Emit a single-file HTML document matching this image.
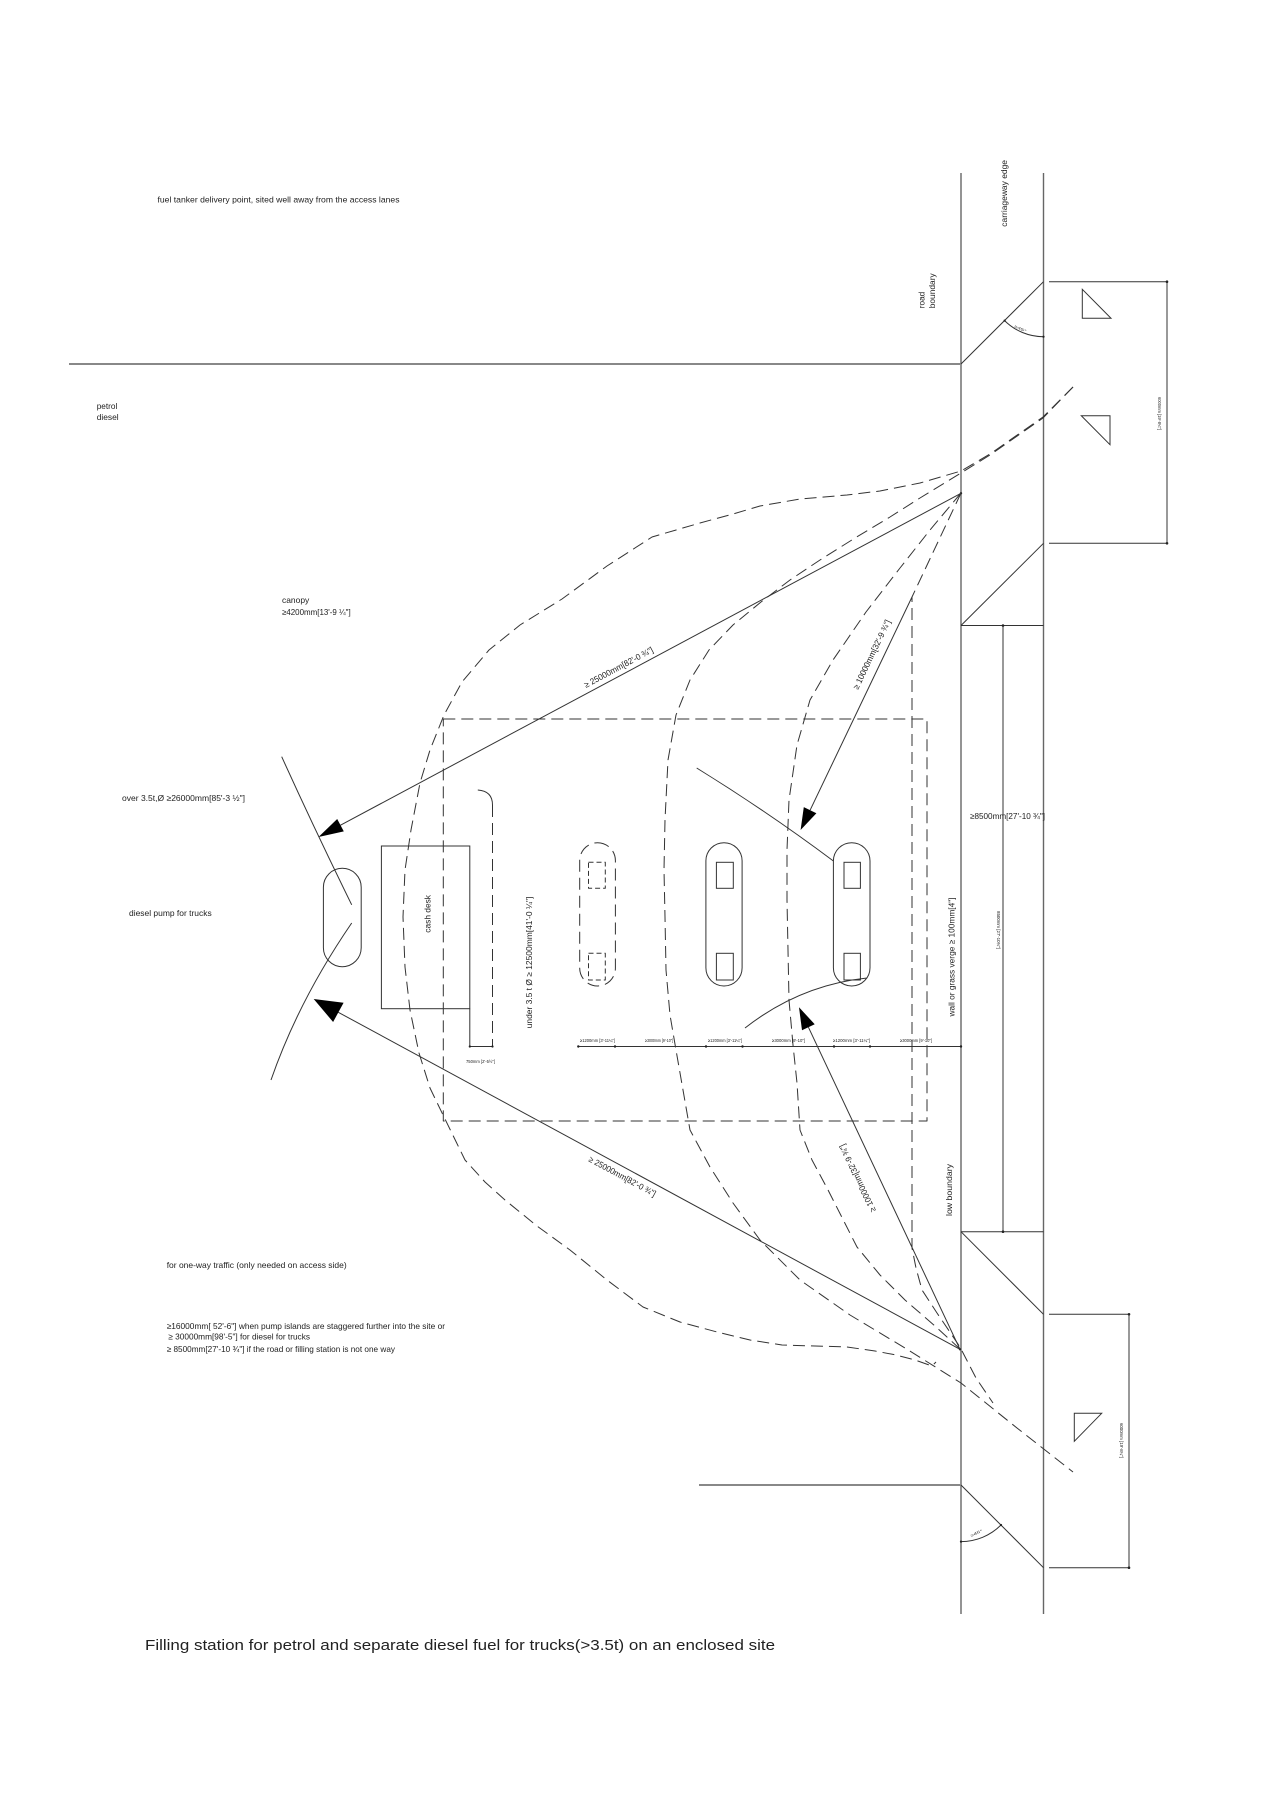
<!DOCTYPE html>
<html>
<head>
<meta charset="utf-8">
<style>
html,body{margin:0;padding:0;background:#fff;}
svg{display:block;}
text{font-family:"Liberation Sans",Arial,sans-serif;fill:#222;}
</style>
</head>
<body>
<svg width="1273" height="1800" viewBox="0 0 1273 1800" xmlns="http://www.w3.org/2000/svg">
<rect x="0" y="0" width="1273" height="1800" fill="#fff"/>

<!-- Road lines -->
<g stroke="#666" stroke-width="1.4" fill="none">
  <line x1="961" y1="173" x2="961" y2="1614"/>
  <line x1="1043.5" y1="173" x2="1043.5" y2="1614"/>
</g>
<g stroke="#888" stroke-width="2" fill="none">
  <line x1="69" y1="364" x2="961" y2="364"/>
  <line x1="699" y1="1485" x2="961" y2="1485"/>
</g>
<g stroke="#333" stroke-width="1" fill="none">
  <line x1="961" y1="364" x2="1043.5" y2="281.7"/>
  <line x1="1043.5" y1="543.3" x2="961" y2="625.5"/>
  <line x1="961" y1="625.5" x2="1043.5" y2="625.5"/>
  <line x1="961" y1="1231.7" x2="1043.5" y2="1231.7"/>
  <line x1="961" y1="1231.7" x2="1043.5" y2="1314.3"/>
  <line x1="961" y1="1485" x2="1043.5" y2="1567.7"/>
  <!-- middle dim -->
  <line x1="1003" y1="625.5" x2="1003" y2="1231.7"/>
  <!-- right top dim -->
  <line x1="1049" y1="281.7" x2="1167" y2="281.7"/>
  <line x1="1049" y1="543.3" x2="1167" y2="543.3"/>
  <line x1="1167" y1="281.7" x2="1167" y2="543.3"/>
  <!-- right bottom dim -->
  <line x1="1049" y1="1314.3" x2="1129" y2="1314.3"/>
  <line x1="1049" y1="1567.7" x2="1129" y2="1567.7"/>
  <line x1="1129" y1="1314.3" x2="1129" y2="1567.7"/>
  <!-- angle arcs -->
  <path d="M1004.6,320.6 A55,55 0 0 0 1043.5,336.7"/>
  <path d="M1001,1525 A56.6,56.6 0 0 1 961,1541.6"/>
  <!-- triangles -->
  <polygon points="1082.3,289.3 1082.3,318.3 1111,318.3"/>
  <polygon points="1081.3,415.7 1110,415.7 1110,444.7"/>
  <polygon points="1074.3,1413.3 1101.7,1413.3 1074.3,1441.3"/>
</g>
<g fill="#222">
  <circle cx="1167" cy="281.7" r="1.3"/><circle cx="1167" cy="543.3" r="1.3"/>
  <circle cx="1129" cy="1314.3" r="1.3"/><circle cx="1129" cy="1567.7" r="1.3"/>
  <circle cx="1003" cy="625.5" r="1.3"/><circle cx="1003" cy="1231.7" r="1.3"/>
  <circle cx="1004.6" cy="320.6" r="1.1"/><circle cx="1043.5" cy="336.7" r="1.1"/>
  <circle cx="1001" cy="1525" r="1.1"/><circle cx="961" cy="1541.6" r="1.1"/>
  <circle cx="961" cy="493.3" r="1.2"/><circle cx="960" cy="1349.3" r="1.2"/>
</g>

<!-- Dashed curves -->
<g stroke="#333" stroke-width="1" fill="none" stroke-dasharray="12,6" stroke-linejoin="round">
  <rect x="443.3" y="719" width="483.7" height="402"/>
  <polyline points="1073,387 1043,417 990,454 961,471 920,483 880,491 847,495 800,499 760,506 733,514 700,523 652,537 607,566 562,599 520,625 489,650 462,682 444,715 430,750 420,783 411,830 405,870 403,917 405,967 410,1010 419,1053 430,1088 444,1117 465,1160 485,1182 505,1200 537,1226 570,1250 607,1280 643,1307 680,1322 717,1332 750,1340 782,1345 815,1346 847,1347 875,1351 896,1355 915,1360 932,1366 936,1362"/>
  <polyline points="1073,387 1043,418 990,455 961,473 920,498 890,517 855,538 820,560 790,580 761,602 733,625 709,650 690,680 676,715 668,760 665,820 664,870 665,917 666,970 670,1015 676,1050 683,1090 690,1130 710,1167 733,1203 760,1240 800,1280 850,1315 905,1348 961,1383 1017,1428 1073,1472"/>
  <polyline points="961,493 930,530 900,568 866,612 833,660 810,700 797,745 789,800 787,850 787,900 788,950 789,1000 793,1045 797,1083 800,1130 812,1160 827,1188 857,1247 880,1275 905,1300 935,1326 960,1349"/>
  <polyline points="961,493 912,597 912,1248 916,1268 922,1290 937,1313 960,1347 976,1378 993,1403"/>
  <!-- pump island 1 dashed -->
  <rect x="579.7" y="842.7" width="35.7" height="143.3" rx="17.85" ry="17.85"/>
  <rect x="588.5" y="862.3" width="16.8" height="26" stroke-dasharray="5,3"/>
  <rect x="588.5" y="953.3" width="16.8" height="26.7" stroke-dasharray="5,3"/>
  <line x1="492.5" y1="805" x2="492.5" y2="1046.5"/>
</g>

<!-- Solid elements -->
<g stroke="#333" stroke-width="1" fill="none">
  <path d="M477.8,790 Q492.5,791 492.5,805"/>
  <rect x="381.4" y="846" width="88.4" height="162.7"/>
  <line x1="469.8" y1="1008.7" x2="469.8" y2="1046.5"/>
  <line x1="469.8" y1="1046.5" x2="492.5" y2="1046.5"/>
  <!-- truck pump -->
  <rect x="323.4" y="868.3" width="37.8" height="98.4" rx="18.9" ry="18.9"/>
  <!-- pump islands -->
  <rect x="705.9" y="842.7" width="36.2" height="143.3" rx="18.1" ry="18.1"/>
  <rect x="716.4" y="862.3" width="16.9" height="26"/>
  <rect x="716.4" y="953.3" width="16.9" height="26.7"/>
  <rect x="833.4" y="842.7" width="36.6" height="143.3" rx="18.3" ry="18.3"/>
  <rect x="844" y="862.3" width="16.4" height="26"/>
  <rect x="844" y="953.3" width="16.4" height="26.7"/>
  <!-- turning arcs -->
  <path d="M281.7,756.7 Q314,828 351.7,904.8"/>
  <path d="M351.7,923 Q298.6,1000.5 271,1080"/>
  <path d="M696.7,768 Q768,812 833.4,861"/>
  <path d="M745,1028 Q800,985 867,978"/>
  <!-- dimension chain -->
  <line x1="578.3" y1="1046.5" x2="961" y2="1046.5"/>
  <!-- main lines -->
  <line x1="961" y1="493.3" x2="340.5" y2="825.2"/>
  <line x1="960" y1="1349.3" x2="338.3" y2="1012.3"/>
  <line x1="912" y1="597" x2="810.1" y2="810.2"/>
  <line x1="960" y1="1349.3" x2="808.4" y2="1027.2"/>
</g>
<g fill="#000">
  <polygon points="318.5,837 337.2,819 343.8,831.4"/>
  <polygon points="313.7,999 343.6,1002.7 333.1,1022"/>
  <polygon points="800.6,830 803.8,807.1 816.4,813.2"/>
  <polygon points="799,1007.3 814.7,1024.2 802,1030.2"/>
</g>
<g fill="#222">
  <circle cx="578.3" cy="1046.5" r="1.2"/><circle cx="615" cy="1046.5" r="1.2"/>
  <circle cx="706" cy="1046.5" r="1.2"/><circle cx="742.5" cy="1046.5" r="1.2"/>
  <circle cx="834" cy="1046.5" r="1.2"/><circle cx="870" cy="1046.5" r="1.2"/>
  <circle cx="961" cy="1046.5" r="1.2"/>
  <circle cx="469.8" cy="1046.5" r="1.1"/><circle cx="492.5" cy="1046.5" r="1.1"/>
</g>

<!-- Horizontal text -->
<g font-size="8.5">
  <text x="157.5" y="202.5" textLength="242" lengthAdjust="spacingAndGlyphs">fuel tanker delivery point, sited well  away from the access lanes</text>
  <text x="96.7" y="409" textLength="20.6" lengthAdjust="spacingAndGlyphs">petrol</text>
  <text x="96.7" y="420" textLength="22" lengthAdjust="spacingAndGlyphs">diesel</text>
  <text x="282" y="603" textLength="27.3" lengthAdjust="spacingAndGlyphs">canopy</text>
  <text x="282" y="615" textLength="68.7" lengthAdjust="spacingAndGlyphs">≥4200mm[13'-9 ¼"]</text>
  <text x="122" y="801" textLength="123" lengthAdjust="spacingAndGlyphs">over 3.5t,Ø  ≥26000mm[85'-3 ½"]</text>
  <text x="129" y="916" textLength="82.7" lengthAdjust="spacingAndGlyphs">diesel pump for trucks</text>
  <text x="166.7" y="1268" textLength="180" lengthAdjust="spacingAndGlyphs">for one-way traffic (only needed on access side)</text>
  <text x="166.7" y="1329" textLength="278.3" lengthAdjust="spacingAndGlyphs">≥16000mm[ 52'-6"] when pump islands are staggered further into the site or</text>
  <text x="168.3" y="1339.5" textLength="141.7" lengthAdjust="spacingAndGlyphs">≥ 30000mm[98'-5"] for diesel for trucks</text>
  <text x="166.7" y="1352" textLength="228.3" lengthAdjust="spacingAndGlyphs">≥ 8500mm[27'-10 ¾"] if the road or filling station is not one way</text>
  <text x="970" y="819" textLength="75" lengthAdjust="spacingAndGlyphs">≥8500mm[27'-10 ¾"]</text>
</g>
<text x="145" y="1650" font-size="15" textLength="630" lengthAdjust="spacingAndGlyphs">Filling station for petrol and separate diesel fuel for trucks(&gt;3.5t) on an enclosed site</text>

<!-- Rotated text -->
<g font-size="8.5">
  <text transform="translate(1007,226.7) rotate(-90)" textLength="66.7" lengthAdjust="spacingAndGlyphs">carriageway edge</text>
  <text transform="translate(924.7,308.3) rotate(-90)" textLength="16.6" lengthAdjust="spacingAndGlyphs">road</text>
  <text transform="translate(935,308.3) rotate(-90)" textLength="35" lengthAdjust="spacingAndGlyphs">boundary</text>
  <text transform="translate(954.3,1016.5) rotate(-90)" textLength="119" lengthAdjust="spacingAndGlyphs">wall or grass verge ≥ 100mm[4"]</text>
  <text transform="translate(952,1216) rotate(-90)" textLength="52" lengthAdjust="spacingAndGlyphs">low boundary</text>
  <text transform="translate(532,1028.3) rotate(-90)" textLength="131.6" lengthAdjust="spacingAndGlyphs">under 3.5 t Ø  ≥ 12500mm[41'-0 ¼"]</text>
  <text transform="translate(430.3,932.7) rotate(-90)" textLength="37.7" lengthAdjust="spacingAndGlyphs">cash desk</text>
  <text transform="translate(586,688) rotate(-28.1)" textLength="77" lengthAdjust="spacingAndGlyphs">≥ 25000mm[82'-0 ¾"]</text>
  <text transform="translate(588,1161) rotate(28.5)" textLength="75" lengthAdjust="spacingAndGlyphs">≥ 25000mm[82'-0 ¾"]</text>
  <text transform="translate(858,690) rotate(-64.4)" textLength="76" lengthAdjust="spacingAndGlyphs">≥ 10000mm[32'-9 ¾"]</text>
  <text transform="translate(876,1210.4) rotate(-115.4)" textLength="74" lengthAdjust="spacingAndGlyphs">≥ 10000mm[32'-9 ¾"]</text>
</g>

<!-- Tiny dimension labels -->
<g font-size="4.5">
  <text x="580" y="1042" textLength="35" lengthAdjust="spacingAndGlyphs">≥1200mm [3'-11¼"]</text>
  <text x="645" y="1042" textLength="28" lengthAdjust="spacingAndGlyphs">≥3000mm [9'-10"]</text>
  <text x="708" y="1042" textLength="34" lengthAdjust="spacingAndGlyphs">≥1200mm [3'-11¼"]</text>
  <text x="772" y="1042" textLength="33" lengthAdjust="spacingAndGlyphs">≥3000mm [9'-10"]</text>
  <text x="833" y="1042" textLength="37" lengthAdjust="spacingAndGlyphs">≥1200mm [3'-11¼"]</text>
  <text x="900" y="1042" textLength="32" lengthAdjust="spacingAndGlyphs">≥3000mm [9'-10"]</text>
  <text x="466" y="1063" textLength="29" lengthAdjust="spacingAndGlyphs">750mm [2'-5½"]</text>
  <text transform="translate(1158,397) rotate(90)" textLength="33" lengthAdjust="spacingAndGlyphs">6000mm [19'-8¼"]</text>
  <text transform="translate(997,911) rotate(90)" textLength="38" lengthAdjust="spacingAndGlyphs">8500mm [27'-10¾"]</text>
  <text transform="translate(1120,1423) rotate(90)" textLength="35" lengthAdjust="spacingAndGlyphs">6000mm [19'-8¼"]</text>
  <text transform="translate(1014,327) rotate(25)" font-size="3.5" textLength="13" lengthAdjust="spacingAndGlyphs">≥45°</text>
  <text transform="translate(971,1537) rotate(-25)" font-size="3.5" textLength="13" lengthAdjust="spacingAndGlyphs">≥45°</text>
</g>
</svg>
</body>
</html>
